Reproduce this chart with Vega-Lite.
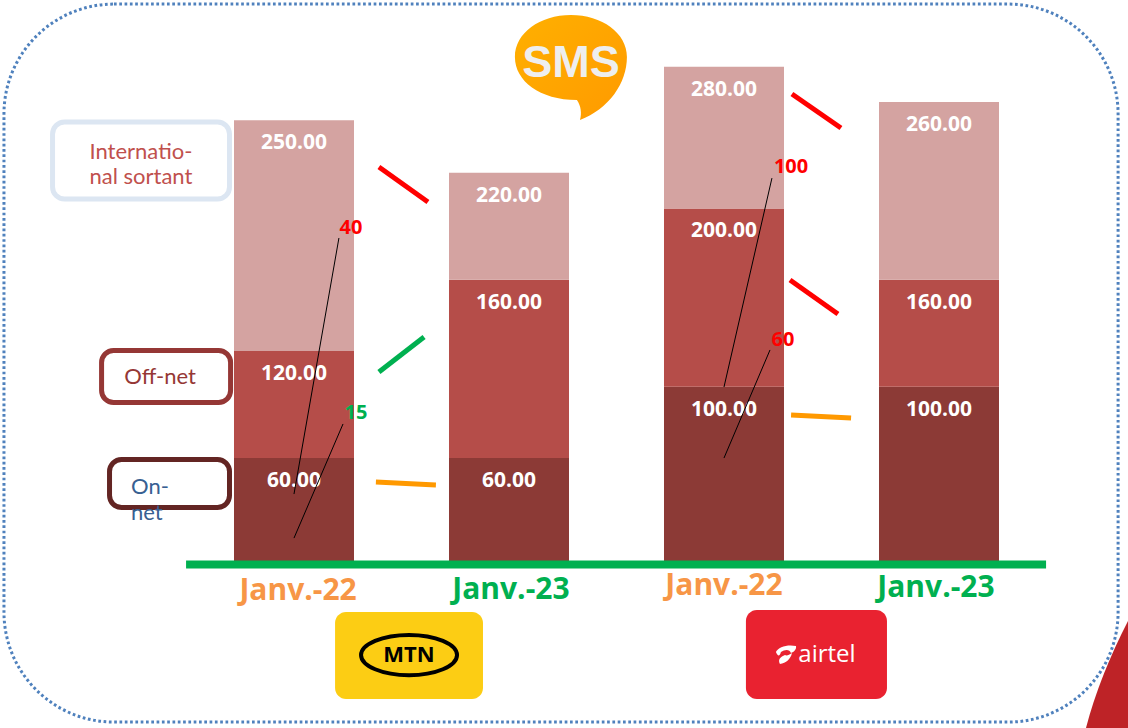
{
"$schema":"https://vega.github.io/schema/vega-lite/v6.json",
"width":1128,"height":728,"padding":0,
"autosize":{"type":"fit","contains":"padding"},
"background":"white",
"config":{"view":{"stroke":null}},
"resolve":{"scale":{"fill":"independent","stroke":"independent","color":"independent"}},
"encoding":{
"x":{"field":"x","type":"quantitative","axis":null,"scale":{"domain":[-0.36744,4.87907],"nice":false,"zero":false,"padding":0}},
"y":{"field":"y","type":"quantitative","axis":null,"scale":{"domain":[-91.42,316.88],"nice":false,"zero":false}}
},
"layer":[
{"data":{"values":[{"x":4.879,"y":-91.42,"name":"corner"}]},"mark":{"type":"point","filled":true,"opacity":1,"size":4,"fill":"#be2327","stroke":null,"shape":"M0 -107 C-18 -72 -33 -35 -42 0 L0 0 Z"}},
{"data":{"values":[{"x":-0.349,"x2":4.833,"y":314.6,"y2":-88.1}]},"mark":{"type":"rect","fill":"transparent","stroke":"#4f81bd","strokeWidth":3,"strokeDash":[2.7,2.6],"cornerRadius":110},"encoding":{"x2":{"field":"x2"},"y2":{"field":"y2"}}},
{"data":{"values":[{"x":2.288,"y":284.9,"name":"SMS bubble"}]},"mark":{"type":"point","filled":true,"opacity":1,"size":4,"stroke":null,"fill":{"gradient":"linear","x1":0,"y1":0,"x2":1,"y2":1,"stops":[{"offset":0,"color":"#ffb000"},{"offset":1,"color":"#ff9a00"}]},"shape":"M-56 0 C-56 -24 -31 -42 0 -42 C31 -42 56 -24 56 0 C56 26 38 52 9 63 C11 56 10 49 6 43 C-31 43 -56 24 -56 0 Z"}},
{"data":{"values":[{"x":2.288,"y":281.5,"t":"SMS"}]},"mark":{"type":"text","font":"Liberation Sans","fontWeight":"bold","fontSize":45,"fill":"#eeeeee","baseline":"middle","align":"center"},"encoding":{"text":{"field":"t"}}},
{"data":{"values":[
{"x":-0.123,"x2":0.700,"y":248.5,"y2":205.3,"c":"International sortant"},
{"x":0.105,"x2":0.705,"y":120.3,"y2":91.1,"c":"Off-net"},
{"x":0.142,"x2":0.700,"y":59.2,"y2":32.2,"c":"On-net"}]},
"mark":{"type":"rect","fill":"white","strokeWidth":5,"cornerRadius":12},
"encoding":{"x2":{"field":"x2"},"y2":{"field":"y2"},"stroke":{"field":"c","type":"nominal","legend":null,"scale":{"domain":["International sortant","Off-net","On-net"],"range":["#dce6f2","#953735","#632523"]}}}},
{"data":{"values":[
{"x":1,"series":"On-net","y":60,"label":"60.00","period":"Janv.-22","operator":"MTN"},
{"x":1,"series":"Off-net","y":60,"label":"120.00","period":"Janv.-22","operator":"MTN"},
{"x":1,"series":"International sortant","y":129.5,"label":"250.00","period":"Janv.-22","operator":"MTN"},
{"x":2,"series":"On-net","y":60,"label":"60.00","period":"Janv.-23","operator":"MTN"},
{"x":2,"series":"Off-net","y":100,"label":"160.00","period":"Janv.-23","operator":"MTN"},
{"x":2,"series":"International sortant","y":60,"label":"220.00","period":"Janv.-23","operator":"MTN"},
{"x":3,"series":"On-net","y":100,"label":"100.00","period":"Janv.-22","operator":"Airtel"},
{"x":3,"series":"Off-net","y":100,"label":"200.00","period":"Janv.-22","operator":"Airtel"},
{"x":3,"series":"International sortant","y":79.5,"label":"280.00","period":"Janv.-22","operator":"Airtel"},
{"x":4,"series":"On-net","y":100,"label":"100.00","period":"Janv.-23","operator":"Airtel"},
{"x":4,"series":"Off-net","y":60,"label":"160.00","period":"Janv.-23","operator":"Airtel"},
{"x":4,"series":"International sortant","y":99.7,"label":"260.00","period":"Janv.-23","operator":"Airtel"}
]},
"transform":[{"stack":"y","groupby":["x"],"sort":[{"field":"series","order":"descending"}],"as":["y0","y1"]}],
"layer":[
{"mark":{"type":"rect","width":120},
"encoding":{
"y":{"field":"y0","type":"quantitative","axis":null,"scale":{"domain":[-91.42,316.88],"nice":false,"zero":false}},
"y2":{"field":"y1"},
"color":{"field":"series","type":"nominal","legend":null,"scale":{"domain":["International sortant","Off-net","On-net"],"range":["#d4a3a1","#b54d49","#8c3a36"]}}}},
{"mark":{"type":"text","font":"Open Sans","fontWeight":"bold","fontSize":21,"fill":"white","baseline":"middle","align":"center","dy":23},
"encoding":{
"y":{"field":"y1","type":"quantitative","axis":null,"scale":{"domain":[-91.42,316.88],"nice":false,"zero":false}},
"text":{"field":"label"}}}
]},
{"data":{"values":[{"x":0.498,"x2":4.498,"y":0.3}]},"mark":{"type":"rule","stroke":"#00b050","strokeWidth":8},"encoding":{"x2":{"field":"x2"}}},
{"data":{"values":[
{"x":1.209,"y":183.4,"x2":1.0,"y2":39.8},
{"x":1.228,"y":79.1,"x2":1.0,"y2":15.1},
{"x":3.223,"y":217.0,"x2":3.0,"y2":99.8},
{"x":3.214,"y":120.6,"x2":3.0,"y2":60.0}]},
"mark":{"type":"rule","stroke":"black","strokeWidth":1},"encoding":{"x2":{"field":"x2"},"y2":{"field":"y2"}}},
{"data":{"values":[
{"x":1.395,"y":223.2,"x2":1.623,"y2":203.6,"c":"baisse"},
{"x":1.395,"y":108.2,"x2":1.605,"y2":127.9,"c":"hausse"},
{"x":1.381,"y":46.6,"x2":1.660,"y2":44.9,"c":"stable"},
{"x":3.316,"y":264.2,"x2":3.544,"y2":245.1,"c":"baisse"},
{"x":3.307,"y":159.8,"x2":3.530,"y2":140.8,"c":"baisse"},
{"x":3.312,"y":84.1,"x2":3.591,"y2":82.4,"c":"stable"}]},
"mark":{"type":"rule","strokeWidth":5},
"encoding":{"x2":{"field":"x2"},"y2":{"field":"y2"},"stroke":{"field":"c","type":"nominal","legend":null,"scale":{"domain":["baisse","hausse","stable"],"range":["#ff0000","#00b050","#ff9900"]}}}},
{"data":{"values":[
{"x":1.265,"y":189,"t":"40","c":"baisse"},
{"x":1.288,"y":85.2,"t":"15","c":"hausse"},
{"x":3.312,"y":223.2,"t":"100","c":"baisse"},
{"x":3.274,"y":126.2,"t":"60","c":"baisse"}]},
"mark":{"type":"text","font":"Open Sans","fontWeight":"bold","fontSize":20,"baseline":"middle","align":"center"},
"encoding":{"text":{"field":"t"},"fill":{"field":"c","type":"nominal","legend":null,"scale":{"domain":["baisse","hausse"],"range":["#ff0000","#00b050"]}}}},
{"data":{"values":[
{"x":1.019,"y":-14.6,"t":"Janv.-22","c":"a"},
{"x":2.009,"y":-14.0,"t":"Janv.-23","c":"b"},
{"x":3.0,"y":-11.8,"t":"Janv.-22","c":"a"},
{"x":3.986,"y":-12.9,"t":"Janv.-23","c":"b"}]},
"mark":{"type":"text","font":"Open Sans","fontWeight":"bold","fontSize":30,"baseline":"middle","align":"center"},
"encoding":{"text":{"field":"t"},"fill":{"field":"c","type":"nominal","legend":null,"scale":{"domain":["a","b"],"range":["#f79646","#00b050"]}}}},
{"data":{"values":[
{"x":0.288,"y":231.6,"t":"Internatio-","c":"International sortant"},
{"x":0.288,"y":217.6,"t":"nal sortant","c":"International sortant"},
{"x":0.377,"y":105.4,"t":"Off-net","c":"Off-net"}]},
"mark":{"type":"text","font":"Lato","fontSize":22,"baseline":"middle","align":"center"},
"encoding":{"text":{"field":"t"},"fill":{"field":"c","type":"nominal","legend":null,"scale":{"domain":["International sortant","Off-net"],"range":["#c0504d","#953735"]}}}},
{"data":{"values":[{"x":0.242,"y":43.7,"t":"On-"},{"x":0.242,"y":29.2,"t":"net"}]},
"mark":{"type":"text","font":"Lato","fontSize":22,"baseline":"middle","align":"left","fill":"#376092"},
"encoding":{"text":{"field":"t"}}},
{"data":{"values":[{"x":1.191,"x2":1.879,"y":-26.4,"y2":-75.2,"c":"MTN"},{"x":3.102,"x2":3.758,"y":-25.2,"y2":-75.2,"c":"Airtel"}]},
"mark":{"type":"rect","cornerRadius":11},
"encoding":{"x2":{"field":"x2"},"y2":{"field":"y2"},"fill":{"field":"c","type":"nominal","legend":null,"scale":{"domain":["MTN","Airtel"],"range":["#fccd14","#e92230"]}}}},
{"data":{"values":[{"x":1.535,"y":-50.5,"name":"MTN ellipse"}]},"mark":{"type":"point","filled":false,"opacity":1,"size":9216,"stroke":"black","strokeWidth":4,"shape":"M-1 0 C-1 -0.23 -0.55 -0.42 0 -0.42 C0.55 -0.42 1 -0.23 1 0 C1 0.23 0.55 0.42 0 0.42 C-0.55 0.42 -1 0.23 -1 0 Z"}},
{"data":{"values":[{"x":1.535,"y":-50.5,"t":"MTN"}]},"mark":{"type":"text","font":"Open Sans","fontWeight":"bold","fontSize":22,"fill":"black","baseline":"middle","align":"center"},"encoding":{"text":{"field":"t"}}},
{"data":{"values":[{"x":3.288,"y":-50.5,"name":"airtel swoosh"}]},"mark":{"type":"point","filled":true,"opacity":1,"size":4,"fill":"white","stroke":null,"shape":"M-10 -3 C-8 -8 2 -11 10 -9 C11 -6 8 -3 5 -2 C4 -6 -1 -6 -5 -3 C-6 1 -8 2 -10 -3 Z M-6 9 C-9 3 -3 1 -1 0 C1 1 3 0 6 -2 C5 4 0 8 -6 9 Z"}},
{"data":{"values":[{"x":3.479,"y":-50.5,"t":"airtel"}]},"mark":{"type":"text","font":"Open Sans","fontWeight":"normal","fontSize":24,"fill":"white","baseline":"middle","align":"center"},"encoding":{"text":{"field":"t"}}}
]
}
